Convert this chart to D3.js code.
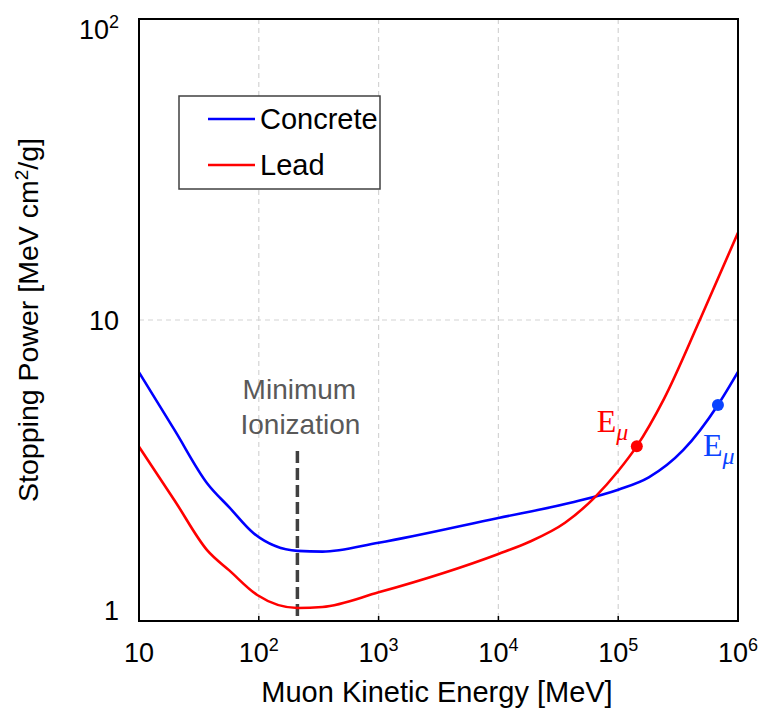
<!DOCTYPE html>
<html>
<head>
<meta charset="utf-8">
<script src="https://cdn.jsdelivr.net/npm/d3@7"></script>
<style>
  html, body { margin: 0; padding: 0; background: #fff; }
  svg { display: block; font-family: "Liberation Sans", Arial, sans-serif; }
</style>
</head>
<body>
<svg id="chart" width="763" height="713"></svg>
<script>
// Muon stopping power vs kinetic energy (MeV cm^2/g)
const concreteEnergy = [10, 20, 37, 57, 90, 210, 340, 1000, 10000, 40000, 100000, 180000, 350000, 680000, 1000000];
const concretePower  = [6.7, 4.28, 2.87, 2.38, 1.96, 1.71, 1.70, 1.82, 2.20, 2.47, 2.73, 3.0, 3.7, 5.22, 6.72];

const leadEnergy = [10, 20, 37, 57, 97, 210, 340, 1000, 10000, 18000, 36000, 64000, 100000, 143000, 240000, 480000, 1000000];
const leadPower  = [3.79, 2.5, 1.72, 1.47, 1.22, 1.105, 1.113, 1.245, 1.67, 1.83, 2.12, 2.58, 3.15, 3.81, 5.45, 10.0, 19.5];

// critical energies marked on each curve
const markerMaterial = ["Concrete", "Lead"];
const markerEnergy   = [680000, 143000];
const markerPower    = [5.22, 3.81];

const minIonEnergy = 210;

const xTickValues = [10, 1e2, 1e3, 1e4, 1e5, 1e6];
const xTickExp    = [null, 2, 3, 4, 5, 6];
const yTickValues = [1, 10, 100];
const yTickBase   = ["1", "10", "10"];
const yTickExp    = [null, null, 2];

const seriesNames  = ["Concrete", "Lead"];
const seriesColors = ["#0000ff", "#ff0000"];
const markerColors = ["#0a44ff", "#ff0000"];

const svg = d3.select("#chart");
const m = { left: 139, right: 738, top: 19, bottom: 621 };

const x = d3.scaleLog().domain([10, 1e6]).range([m.left, m.right]);
const y = d3.scaleLog().domain([1, 100]).range([m.bottom, m.top]);

// grid
const grid = svg.append("g").attr("stroke", "#d4d4d4").attr("stroke-width", 1.2)
  .attr("stroke-dasharray", "5,4");
xTickValues.slice(1, -1).forEach(v => {
  grid.append("line").attr("x1", x(v)).attr("x2", x(v)).attr("y1", m.top).attr("y2", m.bottom);
});
grid.append("line").attr("x1", m.left).attr("x2", m.right).attr("y1", y(10)).attr("y2", y(10));

// inner tick marks on the bottom axis
xTickValues.slice(1, -1).forEach(v => {
  svg.append("line").attr("x1", x(v)).attr("x2", x(v))
    .attr("y1", m.bottom).attr("y2", m.bottom - 5)
    .attr("stroke", "#000").attr("stroke-width", 1.5);
});

// minimum ionization marker
svg.append("line")
  .attr("x1", x(minIonEnergy)).attr("x2", x(minIonEnergy))
  .attr("y1", 451).attr("y2", m.bottom)
  .attr("stroke", "#404040").attr("stroke-width", 3.5)
  .attr("stroke-dasharray", "12,5");
const mi = svg.append("text").attr("fill", "#595959").attr("font-size", 28)
  .attr("text-anchor", "middle");
mi.append("tspan").attr("x", x(minIonEnergy) + 2).attr("y", 399).text("Minimum");
mi.append("tspan").attr("x", x(minIonEnergy) + 3).attr("y", 434).text("Ionization");

// curves
const line = d3.line().x(d => x(d[0])).y(d => y(d[1])).curve(d3.curveMonotoneX);
const series = [
  d3.zip(concreteEnergy, concretePower),
  d3.zip(leadEnergy, leadPower)
];
series.forEach((s, i) => {
  svg.append("path").datum(s).attr("d", line)
    .attr("fill", "none").attr("stroke", seriesColors[i]).attr("stroke-width", 2.6);
});

// markers with E_mu labels
const labelOffsets = [[-15, 51], [-40, -14]];
markerEnergy.forEach((e, i) => {
  const cx = x(e), cy = y(markerPower[i]);
  svg.append("circle").attr("cx", cx).attr("cy", cy).attr("r", 6)
    .attr("fill", markerColors[i]);
  const t = svg.append("text")
    .attr("x", cx + labelOffsets[i][0]).attr("y", cy + labelOffsets[i][1])
    .attr("fill", markerColors[i])
    .attr("font-family", "'Liberation Serif', 'Times New Roman', serif")
    .attr("font-size", 32);
  t.append("tspan").text("E");
  t.append("tspan").attr("font-style", "italic").attr("font-size", 24)
    .attr("dy", 8).text("\u03bc");
});

// frame
svg.append("rect").attr("x", m.left).attr("y", m.top)
  .attr("width", m.right - m.left).attr("height", m.bottom - m.top)
  .attr("fill", "none").attr("stroke", "#000").attr("stroke-width", 2);

// x tick labels
xTickValues.forEach((v, i) => {
  const t = svg.append("text").attr("x", x(v)).attr("y", 662)
    .attr("text-anchor", "middle").attr("font-size", 27).attr("fill", "#000");
  t.append("tspan").text("10");
  if (xTickExp[i] !== null) {
    t.append("tspan").attr("font-size", 18).attr("dy", -11).text(xTickExp[i]);
  }
});

// y tick labels (outer labels pulled inside the frame)
yTickValues.forEach((v, i) => {
  let cy = y(v);
  if (i === 0) cy -= 11;
  if (i === yTickValues.length - 1) cy += 10;
  const t = svg.append("text").attr("x", 119).attr("y", cy + 10)
    .attr("text-anchor", "end").attr("font-size", 27).attr("fill", "#000");
  t.append("tspan").text(yTickBase[i]);
  if (yTickExp[i] !== null) {
    t.append("tspan").attr("font-size", 18).attr("dy", -11).text(yTickExp[i]);
  }
});

// axis titles
svg.append("text").attr("x", 437).attr("y", 702)
  .attr("text-anchor", "middle").attr("font-size", 29).attr("fill", "#000")
  .text("Muon Kinetic Energy [MeV]");
const yt = svg.append("text")
  .attr("transform", `translate(38, ${(m.top + m.bottom) / 2}) rotate(-90)`)
  .attr("text-anchor", "middle").attr("font-size", 28.5).attr("fill", "#000");
yt.append("tspan").text("Stopping Power [MeV cm");
yt.append("tspan").attr("font-size", 19).attr("dy", -10).text("2");
yt.append("tspan").attr("dy", 10).text("/g]");

// legend
const lg = svg.append("g");
lg.append("rect").attr("x", 179).attr("y", 96).attr("width", 201).attr("height", 93)
  .attr("fill", "#fff").attr("stroke", "#404040").attr("stroke-width", 1.5);
seriesNames.forEach((n, i) => {
  const ly = 119 + i * 46;
  lg.append("line").attr("x1", 208).attr("x2", 255).attr("y1", ly).attr("y2", ly)
    .attr("stroke", seriesColors[i]).attr("stroke-width", 2.6);
  lg.append("text").attr("x", 260).attr("y", ly + 10).attr("font-size", 29)
    .attr("fill", "#000").text(n);
});
</script>
</body>
</html>
